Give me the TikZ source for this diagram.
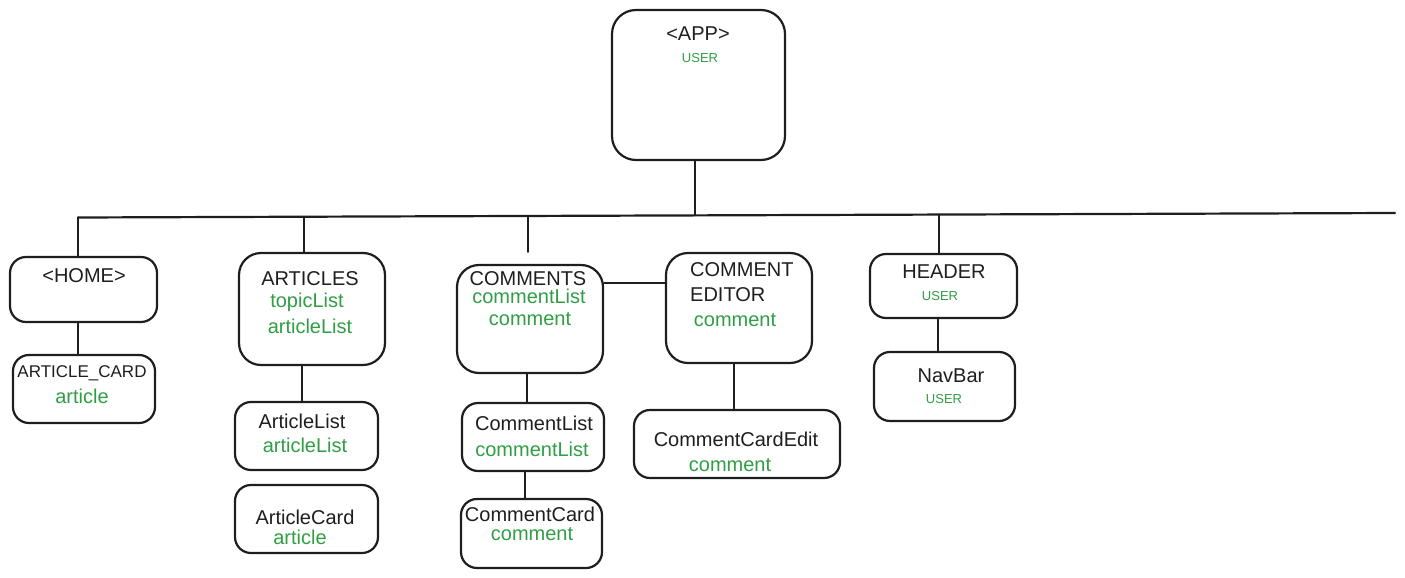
\documentclass[tikz,border=0pt]{standalone}
\usepackage{fontspec}
\setmainfont{Liberation Sans}
\usetikzlibrary{calc}
\definecolor{grn}{HTML}{2F9E44}
\definecolor{ink}{HTML}{1E1E1E}
\begin{document}
\begin{tikzpicture}[x=1pt,y=-1pt,
  box/.style={draw=ink, line width=2.2pt, rounded corners=16pt, inner sep=0pt},
  lbl/.style={font=\fontsize{20}{22}\selectfont, inner sep=0pt, text=ink},
  slbl/.style={font=\fontsize{17}{19}\selectfont, inner sep=0pt, text=ink},
  grn/.style={font=\fontsize{20}{22}\selectfont, inner sep=0pt, text=grn},
  sgrn/.style={font=\fontsize{13}{15}\selectfont, inner sep=0pt, text=grn},
  conn/.style={draw=ink, line width=2.2pt, line cap=round}]
\useasboundingbox (0,0) rectangle (1405,578);

% boxes
\node[box, rounded corners=24pt, minimum width=173pt, minimum height=150pt] (app) at (698.5,85) {};
\node[box, minimum width=147pt, minimum height=65pt] (home) at (83.5,289.5) {};
\node[box, minimum width=142pt, minimum height=68pt] (acard) at (84,389) {};
\node[box, rounded corners=22pt, minimum width=146pt, minimum height=112pt] (articles) at (312,309) {};
\node[box, minimum width=143pt, minimum height=68pt] (alist) at (306.5,436) {};
\node[box, minimum width=143pt, minimum height=68pt] (acard2) at (306.5,519) {};
\node[box, rounded corners=22pt, minimum width=146pt, minimum height=108pt] (comments) at (530,319) {};
\node[box, minimum width=142pt, minimum height=68pt] (clist) at (533,437) {};
\node[box, minimum width=141pt, minimum height=69pt] (ccard) at (531.5,533.5) {};
\node[box, rounded corners=22pt, minimum width=146pt, minimum height=110pt] (editor) at (739,308) {};
\node[box, minimum width=206pt, minimum height=68pt] (cedit) at (737,444) {};
\node[box, minimum width=147pt, minimum height=64pt] (header) at (943.5,286) {};
\node[box, minimum width=141pt, minimum height=69pt] (navbar) at (944.5,386.5) {};

% texts
\node[lbl] (tapp) at (698,34) {<APP>};
\node[sgrn] (tappu) at (700,58) {USER};
\node[lbl] (thome) at (84,276) {<HOME>};
\node[slbl] (tac) at (82,373) {ARTICLE\_CARD};
\node[grn] (tacg) at (82,396) {article};
\node[lbl] (tart) at (310,279) {ARTICLES};
\node[grn] (tart1) at (307,302) {topicList};
\node[grn] (tart2) at (310,326) {articleList};
\node[lbl] (tal) at (302,421) {ArticleList};
\node[grn] (talg) at (305,445) {articleList};
\node[lbl] (tac2) at (305,517) {ArticleCard};
\node[grn] (tac2g) at (300,537) {article};
\node[lbl] (tcom) at (528,279) {COMMENTS};
\node[grn] (tcom1) at (529,296) {commentList};
\node[grn] (tcom2) at (530,319) {comment};
\node[lbl, anchor=west] (ted1) at (690,270) {COMMENT};
\node[lbl, anchor=west] (ted2) at (690,295) {EDITOR};
\node[grn] (ted3) at (735,320) {comment};
\node[lbl] (tcl) at (534,423) {CommentList};
\node[grn] (tclg) at (532,449) {commentList};
\node[lbl] (tcc) at (530,514) {CommentCard};
\node[grn] (tccg) at (532,534) {comment};
\node[lbl] (tce) at (736,439) {CommentCardEdit};
\node[grn] (tceg) at (730,465) {comment};
\node[lbl] (thead) at (944,272) {HEADER};
\node[sgrn] (theadu) at (940,296) {USER};
\node[lbl] (tnav) at (951,376) {NavBar};
\node[sgrn] (tnavu) at (944,399) {USER};

% bus
\coordinate (busL) at (78,217.5);
\coordinate (busR) at (1395,213);
\coordinate (bA) at (695,215.4);
\coordinate (b1) at (78,217.5);
\coordinate (b2) at (304,216.7);
\coordinate (b3) at (528,216);
\coordinate (b4) at (939,214.6);
\draw[conn] (busL) -- (busR);
\draw[conn] (app.south -| bA) -- (bA);
\draw[conn] (b1) -- (b1 |- home.north);
\draw[conn] (b2) -- (b2 |- articles.north);
\draw[conn] (b3) -- ($(b3 |- comments.north)+(0,-12)$);
\draw[conn] (b4) -- (b4 |- header.north);

% tree links
\draw[conn] (home.south -| b1) -- (acard.north -| b1);
\coordinate (x2) at (302,0);
\draw[conn] (articles.south -| x2) -- (alist.north -| x2);
\coordinate (x3) at (527,0);
\draw[conn] (comments.south -| x3) -- (clist.north -| x3);
\coordinate (x4) at (525,0);
\draw[conn] (clist.south -| x4) -- (ccard.north -| x4);
\coordinate (y5) at (0,283);
\draw[conn] (comments.east |- y5) -- (editor.west |- y5);
\coordinate (x6) at (734,0);
\draw[conn] (editor.south -| x6) -- (cedit.north -| x6);
\coordinate (x7) at (938,0);
\draw[conn] (header.south -| x7) -- (navbar.north -| x7);
\end{tikzpicture}
\end{document}
